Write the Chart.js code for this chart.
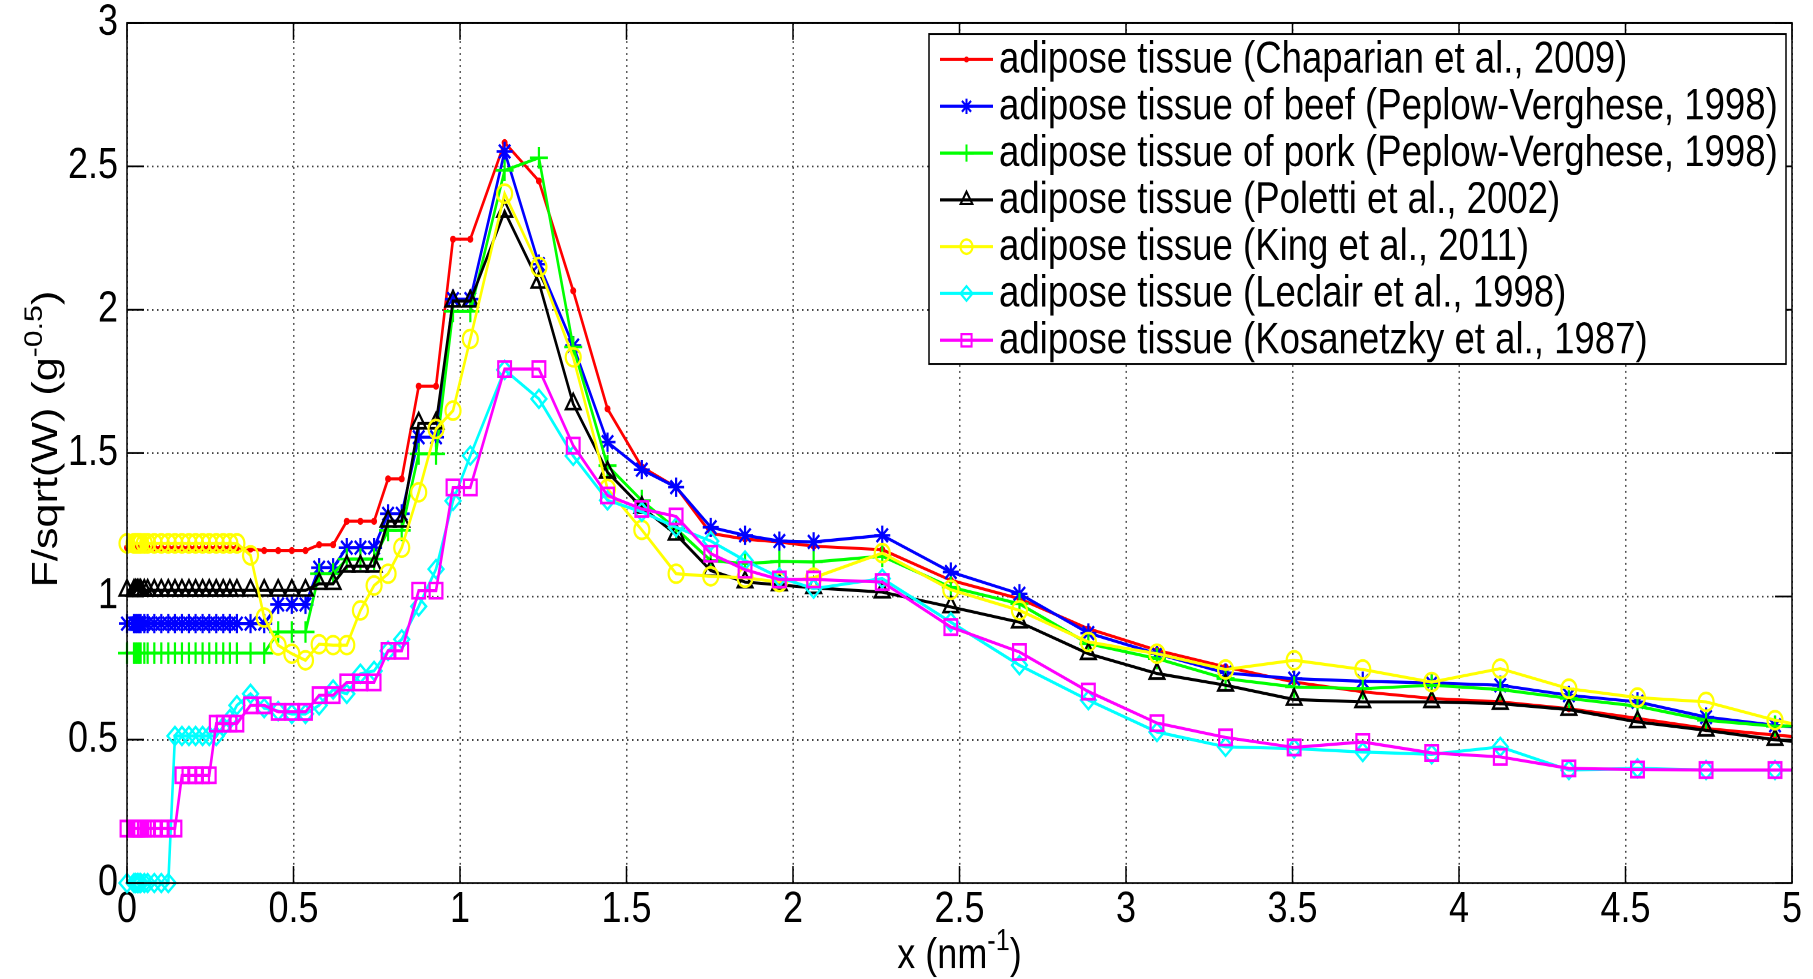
<!DOCTYPE html>
<html>
<head>
<meta charset="utf-8">
<title>adipose tissue form factors</title>
<script src="https://cdn.jsdelivr.net/npm/chart.js@4.4.1/dist/chart.umd.min.js"></script>
<style>
  html, body { margin: 0; padding: 0; background: #fff; }
  #wrap { width: 1813px; height: 979px; }
</style>
</head>
<body>
<div id="wrap">
  <!-- the source figure is stretched vertically by ~1.2, so draw at 816 high and let css stretch it -->
  <canvas id="chart" width="1813" height="816" style="width:1813px;height:979px"></canvas>
</div>
<script>
// momentum transfer grid, nm^-1 (last point lies past the axis end)
var xValues = [0, 0.021, 0.026, 0.031, 0.036, 0.041, 0.052, 0.062, 0.082, 0.103,
  0.124, 0.144, 0.165, 0.186, 0.206, 0.227, 0.247, 0.268, 0.289, 0.309,
  0.330, 0.371, 0.412, 0.454, 0.495, 0.536, 0.577, 0.619, 0.660, 0.701,
  0.742, 0.784, 0.825, 0.876, 0.928, 0.979, 1.031, 1.134, 1.237, 1.340,
  1.443, 1.546, 1.649, 1.753, 1.856, 1.959, 2.062, 2.268, 2.474, 2.680,
  2.887, 3.093, 3.299, 3.505, 3.711, 3.918, 4.124, 4.330, 4.536, 4.742,
  4.949, 5.155];

var chaparian = [1.17, 1.17, 1.17, 1.17, 1.17, 1.17, 1.17, 1.17, 1.17, 1.17,
  1.17, 1.17, 1.17, 1.17, 1.17, 1.17, 1.17, 1.17, 1.17, 1.17,
  1.17, 1.165, 1.16, 1.16, 1.16, 1.16, 1.18, 1.18, 1.262, 1.262,
  1.262, 1.41, 1.41, 1.733, 1.733, 2.246, 2.246, 2.583, 2.449, 2.066,
  1.654, 1.451, 1.381, 1.22, 1.20, 1.19, 1.175, 1.163, 1.056, 0.992,
  0.887, 0.812, 0.754, 0.701, 0.667, 0.644, 0.632, 0.608, 0.574, 0.539,
  0.516, 0.497];

var beef = [0.905, 0.905, 0.905, 0.905, 0.905, 0.905, 0.905, 0.905, 0.905, 0.905,
  0.905, 0.905, 0.905, 0.905, 0.905, 0.905, 0.905, 0.905, 0.905, 0.905,
  0.905, 0.905, 0.905, 0.972, 0.972, 0.972, 1.10, 1.10, 1.17, 1.17,
  1.17, 1.288, 1.288, 1.555, 1.555, 2.037, 2.037, 2.552, 2.159, 1.875,
  1.538, 1.442, 1.381, 1.241, 1.213, 1.193, 1.19, 1.213, 1.085, 1.009,
  0.872, 0.80, 0.733, 0.713, 0.704, 0.698, 0.69, 0.655, 0.632, 0.579,
  0.55, 0.53];

var pork = [0.802, 0.802, 0.802, 0.802, 0.802, 0.802, 0.802, 0.802, 0.802, 0.802,
  0.802, 0.802, 0.802, 0.802, 0.802, 0.802, 0.802, 0.802, 0.802, 0.802,
  0.802, 0.802, 0.802, 0.876, 0.876, 0.876, 1.079, 1.079, 1.13, 1.13,
  1.13, 1.23, 1.23, 1.497, 1.497, 1.994, 1.994, 2.486, 2.53, 1.87,
  1.456, 1.334, 1.236, 1.125, 1.114, 1.122, 1.12, 1.14, 1.032, 0.974,
  0.835, 0.783, 0.713, 0.684, 0.678, 0.69, 0.675, 0.644, 0.617, 0.568,
  0.547, 0.553];

var poletti = [1.021, 1.021, 1.021, 1.021, 1.021, 1.021, 1.021, 1.021, 1.021, 1.021,
  1.021, 1.021, 1.021, 1.021, 1.021, 1.021, 1.021, 1.021, 1.021, 1.021,
  1.021, 1.021, 1.021, 1.021, 1.021, 1.021, 1.044, 1.044, 1.105, 1.105,
  1.105, 1.262, 1.262, 1.604, 1.604, 2.03, 2.03, 2.343, 2.095, 1.671,
  1.433, 1.31, 1.216, 1.09, 1.05, 1.04, 1.03, 1.015, 0.963, 0.91,
  0.80, 0.731, 0.69, 0.64, 0.632, 0.632, 0.626, 0.605, 0.562, 0.533,
  0.50, 0.478];

var king = [1.185, 1.185, 1.185, 1.185, 1.185, 1.185, 1.185, 1.185, 1.185, 1.185,
  1.185, 1.185, 1.185, 1.185, 1.185, 1.185, 1.185, 1.185, 1.185, 1.185,
  1.185, 1.143, 0.926, 0.829, 0.80, 0.777, 0.833, 0.83, 0.83, 0.951,
  1.038, 1.079, 1.17, 1.363, 1.584, 1.648, 1.898, 2.405, 2.149, 1.834,
  1.375, 1.232, 1.079, 1.07, 1.065, 1.05, 1.065, 1.151, 1.023, 0.951,
  0.841, 0.80, 0.745, 0.777, 0.745, 0.701, 0.748, 0.678, 0.647, 0.632,
  0.568, 0.52];

var leclair = [0, 0, 0, 0, 0, 0, 0, 0, 0, 0,
  0, 0.513, 0.513, 0.513, 0.513, 0.513, 0.513, 0.513, 0.545, 0.572,
  0.62, 0.66, 0.61, 0.60, 0.59, 0.59, 0.62, 0.675, 0.66, 0.73,
  0.74, 0.81, 0.85, 0.965, 1.095, 1.333, 1.491, 1.79, 1.689, 1.49,
  1.335, 1.295, 1.241, 1.193, 1.125, 1.066, 1.027, 1.062, 0.91, 0.76,
  0.638, 0.527, 0.475, 0.469, 0.457, 0.449, 0.475, 0.394, 0.40, 0.394,
  0.394, 0.394];

var kosanetzky = [0.19, 0.19, 0.19, 0.19, 0.19, 0.19, 0.19, 0.19, 0.19, 0.19,
  0.19, 0.19, 0.376, 0.376, 0.376, 0.376, 0.376, 0.556, 0.556, 0.556,
  0.556, 0.62, 0.62, 0.597, 0.597, 0.597, 0.655, 0.655, 0.70, 0.70,
  0.70, 0.81, 0.81, 1.02, 1.02, 1.38, 1.38, 1.793, 1.793, 1.526,
  1.352, 1.305, 1.279, 1.149, 1.093, 1.059, 1.059, 1.05, 0.893, 0.806,
  0.668, 0.558, 0.508, 0.473, 0.492, 0.454, 0.44, 0.40, 0.396, 0.394,
  0.394, 0.394];

var seriesNames = [
  'adipose tissue (Chaparian et al., 2009)',
  'adipose tissue of beef (Peplow-Verghese, 1998)',
  'adipose tissue of pork (Peplow-Verghese, 1998)',
  'adipose tissue (Poletti et al., 2002)',
  'adipose tissue (King et al., 2011)',
  'adipose tissue (Leclair et al., 1998)',
  'adipose tissue (Kosanetzky et al., 1987)'
];
var seriesValues = [chaparian, beef, pork, poletti, king, leclair, kosanetzky];

var xTicks = [0, 0.5, 1, 1.5, 2, 2.5, 3, 3.5, 4, 4.5, 5];
var yTicks = [0, 0.5, 1, 1.5, 2, 2.5, 3];

// look of each series (matlab style: r.-, b*-, g+-, k^-, yo-, cd-, ms-)
var styles = [
  {color: '#ff0000', marker: 'circle', size: 2.5, filled: true},
  {color: '#0000ff', marker: 'star', size: 8, filled: false},
  {color: '#00ff00', marker: 'cross', size: 9, filled: false},
  {color: '#000000', marker: 'triangle', size: 8.5, filled: false},
  {color: '#ffff00', marker: 'circle', size: 7.5, filled: false},
  {color: '#00ffff', marker: 'rectRot', size: 7.5, filled: false},
  {color: '#ff00ff', marker: 'rect', size: 9, filled: false}
];

var FONT = "'Liberation Sans', Arial, Helvetica, sans-serif";
Chart.defaults.font.family = FONT;
Chart.defaults.color = '#000';

function buildDatasets() {
  return seriesValues.map(function(vals, i) {
    var st = styles[i];
    return {
      label: seriesNames[i],
      data: xValues.map(function(x, j) { return {x: x, y: vals[j]}; }),
      borderColor: st.color,
      backgroundColor: st.color,
      borderWidth: 2.6,
      pointStyle: st.marker,
      pointRadius: st.size,
      pointHoverRadius: st.size,
      pointBorderColor: st.color,
      pointBackgroundColor: st.filled ? st.color : 'rgba(0,0,0,0)',
      pointBorderWidth: st.filled ? 1 : 2.2,
      tension: 0,
      fill: false,
      order: 7 - i,   // later series on top, like matlab
      clip: {left: 15, top: 15, right: 0, bottom: 15}
    };
  });
}

// text with superscript pieces, drawn centred on the origin
function drawRich(ctx, parts, size) {
  var total = 0;
  parts.forEach(function(p) {
    ctx.font = (p.sup ? size * 0.7 : size) + 'px ' + FONT;
    p.w = ctx.measureText(p.t).width;
    total += p.w;
  });
  var x = -total / 2;
  ctx.textAlign = 'left';
  ctx.textBaseline = 'alphabetic';
  parts.forEach(function(p) {
    ctx.font = (p.sup ? size * 0.7 : size) + 'px ' + FONT;
    ctx.fillText(p.t, x, p.sup ? -size * 0.42 : 0);
    x += p.w;
  });
}

var matlabAxes = {
  id: 'matlabAxes',
  afterDatasetsDraw: function(chart) {
    var ctx = chart.ctx, a = chart.chartArea;
    var sx = chart.scales.x, sy = chart.scales.y;
    ctx.save();
    ctx.strokeStyle = '#000';
    ctx.lineWidth = 1.5;
    ctx.strokeRect(a.left, a.top, a.right - a.left, a.bottom - a.top);
    ctx.beginPath();
    xTicks.forEach(function(v) {
      var px = sx.getPixelForValue(v);
      ctx.moveTo(px, a.bottom); ctx.lineTo(px, a.bottom - 14);
      ctx.moveTo(px, a.top); ctx.lineTo(px, a.top + 14);
    });
    yTicks.forEach(function(v) {
      var py = sy.getPixelForValue(v);
      ctx.moveTo(a.left, py); ctx.lineTo(a.left + 17, py);
      ctx.moveTo(a.right, py); ctx.lineTo(a.right - 17, py);
    });
    ctx.stroke();
    ctx.restore();
  },
  afterDraw: function(chart) {
    var ctx = chart.ctx, a = chart.chartArea;
    ctx.save();
    ctx.fillStyle = '#000';

    // axis titles
    ctx.save();
    ctx.translate((a.left + a.right) / 2, 807);
    drawRich(ctx, [{t: 'x (nm'}, {t: '-1', sup: true}, {t: ')'}], 36);
    ctx.restore();

    ctx.save();
    ctx.translate(57, 366);
    ctx.rotate(-Math.PI / 2);
    drawRich(ctx, [{t: 'F/sqrt(W) (g'}, {t: '-0.5', sup: true}, {t: ')'}], 36);
    ctx.restore();

    // legend
    var box = {left: 929, top: 28.3, right: 1786, bottom: 303.3};
    var firstY = 49.6, step = 39;
    ctx.fillStyle = '#fff';
    ctx.fillRect(box.left, box.top, box.right - box.left, box.bottom - box.top);
    ctx.strokeStyle = '#000';
    ctx.lineWidth = 1.5;
    ctx.strokeRect(box.left, box.top, box.right - box.left, box.bottom - box.top);

    ctx.font = '36.6px ' + FONT;
    ctx.textAlign = 'left';
    ctx.textBaseline = 'middle';
    seriesNames.forEach(function(name, i) {
      var st = styles[i];
      var y = firstY + i * step;
      ctx.strokeStyle = st.color;
      ctx.lineWidth = 2.6;
      ctx.beginPath();
      ctx.moveTo(940, y);
      ctx.lineTo(993, y);
      ctx.stroke();
      ctx.fillStyle = st.filled ? st.color : 'rgba(0,0,0,0)';
      ctx.lineWidth = st.filled ? 1 : 2;
      Chart.helpers.drawPoint(ctx, {pointStyle: st.marker, radius: st.size * 0.8, rotation: 0, borderWidth: ctx.lineWidth}, 966.5, y);
      ctx.fillStyle = '#000';
      ctx.fillText(name, 999, y + 1);
    });
    ctx.restore();
  }
};

var gridStyle = {color: 'rgba(0,0,0,0.75)', lineWidth: 1.5, drawTicks: false};
var gridDash = {display: false, dash: [1.5, 3.5]};

function plainLabel(v) { return String(v); }

new Chart(document.getElementById('chart'), {
  type: 'line',
  data: {datasets: buildDatasets()},
  options: {
    responsive: false,
    devicePixelRatio: 2,
    animation: false,
    events: [],
    layout: {padding: {left: 0, right: 21, top: 19.2, bottom: 0}},
    plugins: {
      legend: {display: false},
      tooltip: {enabled: false}
    },
    scales: {
      x: {
        type: 'linear',
        min: 0,
        max: 5,
        afterBuildTicks: function(scale) {
          scale.ticks = xTicks.map(function(v) { return {value: v}; });
        },
        ticks: {padding: 1, font: {size: 36}, color: '#000', maxRotation: 0, autoSkip: false, callback: plainLabel},
        grid: gridStyle,
        border: gridDash,
        afterFit: function(scale) {
          scale.height = 80;
          scale.paddingLeft = 0;
          scale.paddingRight = 0;
        }
      },
      y: {
        type: 'linear',
        min: 0,
        max: 3,
        afterBuildTicks: function(scale) {
          scale.ticks = yTicks.map(function(v) { return {value: v}; });
        },
        ticks: {padding: 9, font: {size: 36}, color: '#000', autoSkip: false, callback: plainLabel},
        grid: gridStyle,
        border: gridDash,
        afterFit: function(scale) {
          scale.width = 127;
          scale.paddingTop = 0;
          scale.paddingBottom = 0;
        }
      }
    }
  },
  plugins: [matlabAxes]
});
</script>
</body>
</html>
